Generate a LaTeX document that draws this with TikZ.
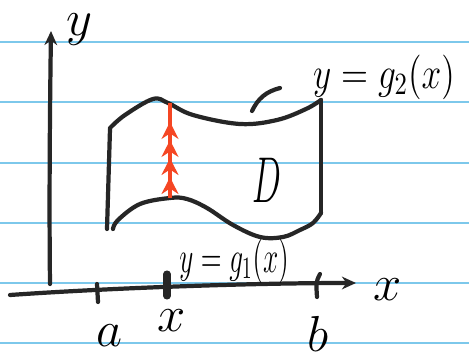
\documentclass[tikz,border=0pt]{standalone}
\usepackage{xcolor}
\usepackage{amsmath,amssymb}
\usepackage{tikz}
\usetikzlibrary{arrows.meta, positioning, calc, decorations.markings}
\definecolor{ruleblue}{RGB}{125,200,235}
\definecolor{penred}{RGB}{245,70,35}
\tikzstyle{ruling} = [ruleblue, line width=1.1pt]
\tikzstyle{pen} = [black!85, line width=3pt, line cap=round, line join=round]
\tikzstyle{axis} = [pen, -{Stealth[length=10pt,width=9pt]}]
\tikzstyle{tick} = [pen]
\tikzstyle{hand} = [inner sep=0pt, font=\Large, scale=2.5]
\tikzstyle{formula} = [inner sep=0pt, font=\Large, yscale=2.2]
\tikzstyle{big} = [inner sep=0pt, font=\Large, xscale=1.7, yscale=3.2]
\tikzstyle{strip} = [penred, line width=3pt,
postaction={decorate},
decoration={markings,
mark=at position 0.22 with {\arrow{Stealth[length=12pt,width=12pt]}},
mark=at position 0.42 with {\arrow{Stealth[length=12pt,width=12pt]}},
mark=at position 0.61 with {\arrow{Stealth[length=12pt,width=12pt]}},
mark=at position 0.80 with {\arrow{Stealth[length=12pt,width=12pt]}}}]

\begin{document}
\begin{tikzpicture}[x=0.025cm, y=-0.025cm]
            \useasboundingbox [fill=white] (0,0) rectangle (469,354);
            % ruled paper
            \foreach \r in {42,102,163,223,283,343}
                \draw [ruling] (0,\r) -- (469,\r);

            % axes
            \coordinate (xstart) at (10,295);
            \coordinate (xend) at (356,283);
            \coordinate (ystart) at (50,284);
            \coordinate (yend) at (51,31);
            \draw [axis] (xstart) .. controls (110,288) and (250,283) .. (xend);
            \draw [axis] (ystart) .. controls (49,200) and (50,100) .. (yend);
            \node (ylab) [hand] at (79,30) {$y$};
            \node (xlab) [hand] at (388,290) {$x$};

            % ticks on the x axis
            \draw [tick] (97,284) -- (98,302);
            \draw [tick, line width=5pt] (167,274) -- (167,296);
            \draw [tick] (320,274) .. controls (316,282) .. (317,297);
            \node (alab) [hand] at (110,336) {$a$};
            \node (xval) [hand] at (172,321) {$x$};
            \node (blab) [hand] at (318,334) {$b$};

            % region D
            \draw [pen] (110,129) -- (107,229);
            \draw [pen] plot [smooth, tension=0.6] coordinates {(110,128) (125,115) (153,99) (168,103) (193,115) (240,124) (277,120) (306,109) (321,100)};
            \draw [pen] (321,100) -- (321,213);
            \draw [pen] plot [smooth, tension=0.6] coordinates {(321,213) (313,223) (300,230) (283,237) (260,237) (233,225) (207,208) (187,199) (170,198) (140,204) (118,220) (113,229)};
            \node (dlab) [big] at (267,180) {$D$};

            % vertical strip
            \coordinate (bot) at (170,198);
            \coordinate (top) at (170,103);
            \draw [strip] (bot) -- (top);

            % boundary labels
            \node (g2lab) [formula, xscale=1.75] at (384,77) {$y=g_2(x)$};
            \node (g1lab) [formula, xscale=1.35] at (234,261) {$y=g_1(x)$};
            \coordinate (lead1) at (252,111);
            \coordinate (lead2) at (280,88);
            \draw [pen] (lead1) to [bend left=25] (lead2);
        \end{tikzpicture}
\end{document}
